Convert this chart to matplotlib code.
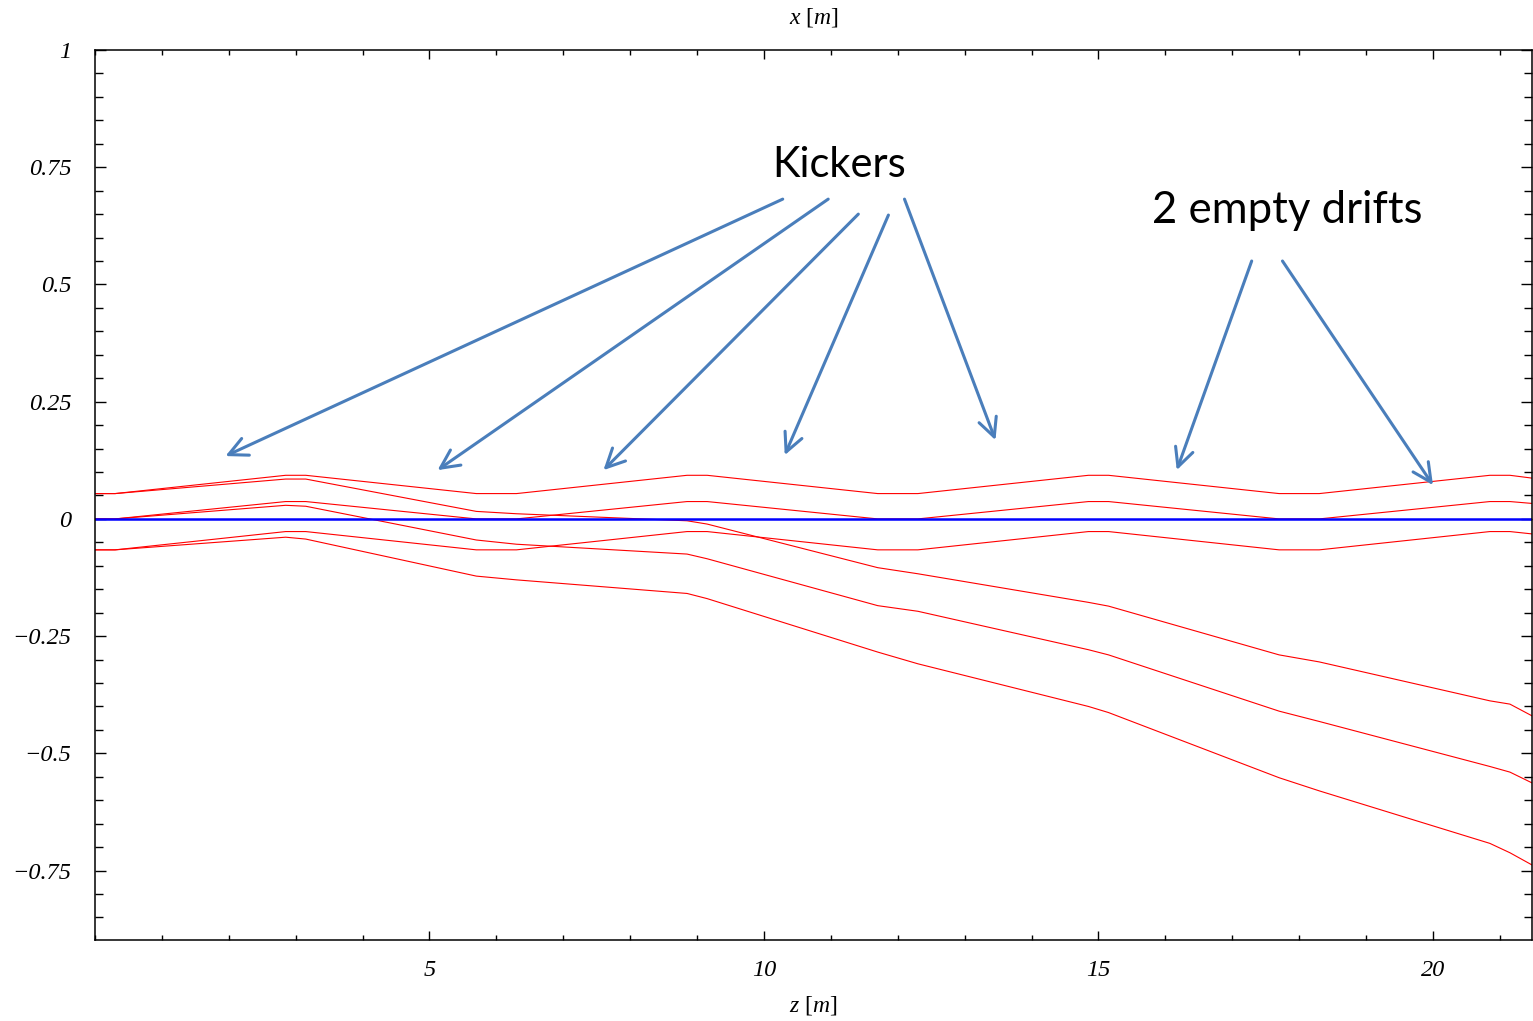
import numpy as np
from matplotlib import pyplot as plt
from matplotlib.ticker import MultipleLocator, FixedLocator

plt.rcParams['mathtext.fontset'] = 'custom'
plt.rcParams['mathtext.rm'] = 'Liberation Serif'
plt.rcParams['mathtext.it'] = 'Liberation Serif:italic'

# lattice nodes along the beamline (m)
z = np.array([0, 0.3, 2.85, 3.15, 5.7, 6.3, 8.85, 9.15, 11.7, 12.3,
              14.85, 15.15, 17.7, 18.3, 20.85, 21.15, 21.48])

# reference beam: centroid and envelope (no kicks)
ref_upper = np.array([0.054, 0.054, 0.093, 0.093, 0.054, 0.054, 0.093, 0.093,
                      0.054, 0.054, 0.093, 0.093, 0.054, 0.054, 0.093, 0.093,
                      0.087])
ref_mid = np.array([0.0, 0.0, 0.037, 0.037, 0.0, 0.0, 0.037, 0.037,
                    0.0, 0.0, 0.037, 0.037, 0.0, 0.0, 0.037, 0.037, 0.033])
ref_lower = np.array([-0.066, -0.066, -0.027, -0.027, -0.066, -0.066,
                      -0.027, -0.027, -0.066, -0.066, -0.027, -0.027,
                      -0.066, -0.066, -0.027, -0.027, -0.032])

# kicked beam
kick_upper = np.array([0.054, 0.054, 0.085, 0.085, 0.016, 0.011, -0.004,
                       -0.011, -0.104, -0.117, -0.178, -0.186, -0.29,
                       -0.305, -0.388, -0.395, -0.42])
kick_mid = np.array([0.0, 0.0, 0.029, 0.027, -0.045, -0.054, -0.075, -0.085,
                     -0.185, -0.197, -0.279, -0.29, -0.41, -0.432, -0.528,
                     -0.54, -0.563])
kick_lower = np.array([-0.066, -0.066, -0.039, -0.043, -0.122, -0.130,
                       -0.159, -0.170, -0.284, -0.309, -0.400, -0.413,
                       -0.552, -0.58, -0.692, -0.712, -0.738])

ytick_vals = [-0.75, -0.5, -0.25, 0, 0.25, 0.5, 0.75, 1]
ytick_labels = ['\u22120.75', '\u22120.5', '\u22120.25', '0',
                '0.25', '0.5', '0.75', '1']
xtick_vals = [5, 10, 15, 20]

# annotation arrows: (text end, target) in data coords
kicker_arrows = [((10.28, 0.682), (1.95, 0.134)),
                 ((10.96, 0.682), (5.12, 0.104)),
                 ((11.41, 0.650), (7.60, 0.104)),
                 ((11.86, 0.648), (10.31, 0.136)),
                 ((12.10, 0.682), (13.46, 0.168))]
drift_arrows = [((17.29, 0.550), (16.17, 0.104)),
                ((17.75, 0.550), (20.00, 0.072))]

fig = plt.figure(figsize=(15.33, 10.21), dpi=100)
ax = fig.add_axes([0.06197, 0.07982, 0.93738, 0.87120])

for yy in (ref_upper, ref_mid, ref_lower, kick_upper, kick_mid, kick_lower):
    ax.plot(z, yy, color='#ff0000', lw=0.8)
ax.axhline(0, color='#0000ff', lw=1.8)

ax.set_xlim(0, 21.48)
ax.set_ylim(-0.897, 1.0)

ax.xaxis.set_major_locator(FixedLocator(xtick_vals))
ax.xaxis.set_minor_locator(MultipleLocator(1))
ax.yaxis.set_major_locator(FixedLocator(ytick_vals))
ax.yaxis.set_minor_locator(MultipleLocator(0.05))
ax.set_yticklabels(ytick_labels)
ax.set_xticklabels([str(v) for v in xtick_vals])

ax.tick_params(which='both', direction='in', top=True, right=True,
               width=1.0, colors='black')
ax.tick_params(axis='x', which='major', length=6.5, pad=15)
ax.tick_params(axis='x', which='minor', length=3.5)
ax.tick_params(axis='y', which='major', length=8, pad=17)
ax.tick_params(axis='y', which='minor', length=5.5)
for lab in ax.get_xticklabels() + ax.get_yticklabels():
    lab.set_fontfamily('Liberation Serif')
    lab.set_fontstyle('italic')
    lab.set_fontsize(17.5)
for sp in ax.spines.values():
    sp.set_linewidth(1.1)

ax.text(0.5, 1.037, r'$x\ [m]$', transform=ax.transAxes, ha='center',
        va='center', fontsize=17)
ax.text(0.5, -0.0736, r'$z\ [m]$', transform=ax.transAxes, ha='center',
        va='center', fontsize=17)

arrow_style = dict(arrowstyle='->,head_length=0.67,head_width=0.33',
                   color='#4a7ebb', lw=2.2, shrinkA=0, shrinkB=0,
                   mutation_scale=20)
for start, end in kicker_arrows + drift_arrows:
    ax.annotate('', xy=end, xytext=start, arrowprops=arrow_style)

ax.text(11.13, 0.730, 'Kickers', family='Lato', fontsize=30,
        ha='center', va='baseline')
ax.text(17.82, 0.631, '2 empty drifts', family='Lato', fontsize=31.5,
        ha='center', va='baseline')

plt.savefig('out.png', dpi=100)
